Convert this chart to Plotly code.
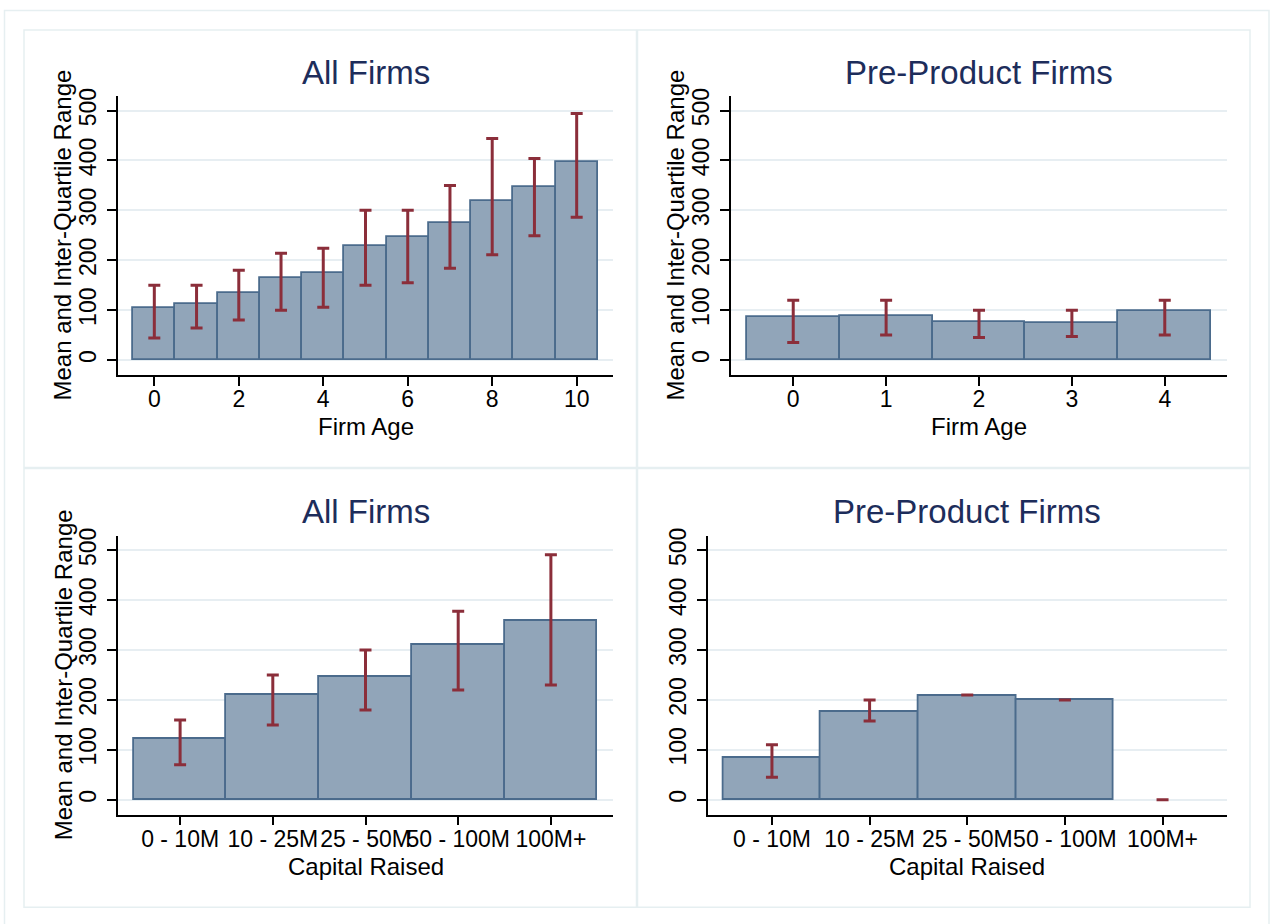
import plotly.graph_objects as go

# ---------------- data ----------------
age_all = [0, 1, 2, 3, 4, 5, 6, 7, 8, 9, 10]
all_age_mean = [105, 112, 135, 165, 175, 229, 247, 275, 319, 347, 397]
all_age_p25 = [44, 64, 80, 100, 106, 150, 155, 184, 211, 249, 286]
all_age_p75 = [150, 150, 180, 214, 224, 300, 300, 350, 444, 404, 494]
all_age_ticks = [0, 2, 4, 6, 8, 10]

age_pre = [0, 1, 2, 3, 4]
pre_age_mean = [87, 88, 77, 74, 98]
pre_age_p25 = [35, 50, 45, 47, 50]
pre_age_p75 = [120, 120, 100, 100, 120]

cap_labels = ["0 - 10M", "10 - 25M", "25 - 50M", "50 - 100M", "100M+"]
all_cap_mean = [121, 211, 247, 311, 359]
all_cap_p25 = [70, 150, 180, 220, 230]
all_cap_p75 = [160, 250, 300, 378, 491]

pre_cap_mean = [83, 177, 209, 200, None]
pre_cap_p25 = [45, 158, 210, 200, 0]
pre_cap_p75 = [110, 200, 210, 200, 0]

y_ticks = [0, 100, 200, 300, 400, 500]

# ---------------- style ----------------
W, H = 1270, 924
FONT = "Liberation Sans, Arial, Helvetica, sans-serif"
BAR_FILL = "#91a5b9"
BAR_LINE = "#4b6b8c"
ERR_COL = "#8b2e3a"
GRID = "#e7eef2"
TITLE_COL = "#1d2d5b"
FRAME = "#e6eff1"


def px(x):
    return x / W


def vy(y):
    # target vertical pixel -> layout pixel (empirical correction)
    return (y - 6.07) / 0.9933


def py(y):
    return 1 - vy(y) / H


panels = [
    dict(x=age_all, m=all_age_mean, lo=all_age_p25, hi=all_age_p75,
         xd=(118, 613), yd=(94.3, 373.8), xr=[-0.86, 10.86],
         tv=all_age_ticks, tt=[str(t) for t in all_age_ticks],
         title="All Firms", xt="Firm Age", yt=True),
    dict(x=age_pre, m=pre_age_mean, lo=pre_age_p25, hi=pre_age_p75,
         xd=(731, 1227), yd=(94.3, 373.8), xr=[-0.67, 4.67],
         tv=age_pre, tt=[str(t) for t in age_pre],
         title="Pre-Product Firms", xt="Firm Age", yt=True),
    dict(x=list(range(len(cap_labels))), m=all_cap_mean, lo=all_cap_p25, hi=all_cap_p75,
         xd=(118, 613), yd=(535, 814.3), xr=[-0.67, 4.67],
         tv=list(range(len(cap_labels))), tt=cap_labels,
         title="All Firms", xt="Capital Raised", yt=True),
    dict(x=list(range(len(cap_labels))), m=pre_cap_mean, lo=pre_cap_p25, hi=pre_cap_p75,
         xd=(707.5, 1227), yd=(535, 814.3), xr=[-0.66, 4.66],
         tv=list(range(len(cap_labels))), tt=cap_labels,
         title="Pre-Product Firms", xt="Capital Raised", yt=False),
]

fig = go.Figure()
annotations = []
layout = {}

for i, p in enumerate(panels):
    n = "" if i == 0 else str(i + 1)
    xa, ya = "x" + n, "y" + n
    fig.add_trace(go.Bar(
        x=p["x"], y=p["m"], width=1, xaxis=xa, yaxis=ya,
        marker=dict(color=BAR_FILL, line=dict(color=BAR_LINE, width=1.8)),
        showlegend=False, hoverinfo="skip",
    ))
    fig.add_trace(go.Scatter(
        x=p["x"], y=p["lo"], xaxis=xa, yaxis=ya, mode="markers",
        marker=dict(size=1, color="rgba(0,0,0,0)"),
        error_y=dict(type="data", symmetric=False,
                     array=[h - l for h, l in zip(p["hi"], p["lo"])],
                     arrayminus=[0] * len(p["lo"]),
                     color=ERR_COL, thickness=3, width=6),
        showlegend=False, hoverinfo="skip",
    ))
    layout["xaxis" + n] = dict(
        domain=[px(p["xd"][0]), px(p["xd"][1])], anchor=ya, range=p["xr"],
        tickmode="array", tickvals=p["tv"], ticktext=p["tt"], tickangle=0,
        showgrid=False, zeroline=False, showline=True, linecolor="black", linewidth=1.5,
        ticks="outside", ticklen=9, tickwidth=1.5, tickcolor="black",
        ticklabelstandoff=-6,
        tickfont=dict(family=FONT, size=23, color="black"),
    )
    layout["yaxis" + n] = dict(
        domain=[py(p["yd"][1]), py(p["yd"][0])], anchor=xa, range=[-30, 529],
        tickmode="array", tickvals=y_ticks, tickangle=-90,
        showgrid=True, gridcolor=GRID, gridwidth=1.5, zeroline=False,
        showline=True, linecolor="black", linewidth=1.5,
        ticks="outside", ticklen=9, tickwidth=1.5, tickcolor="black",
        ticklabelstandoff=2,
        tickfont=dict(family=FONT, size=23, color="black"),
    )
    cx = (p["xd"][0] + p["xd"][1]) / 2
    top = p["yd"][0]
    bottom = p["yd"][1]
    annotations.append(dict(text=p["title"], x=px(cx), y=py(top - 24), xref="paper", yref="paper",
                            xanchor="center", yanchor="middle", showarrow=False,
                            font=dict(family=FONT, size=33, color=TITLE_COL)))
    annotations.append(dict(text=p["xt"], x=px(cx), y=py(bottom + 51.5), xref="paper", yref="paper",
                            xanchor="center", yanchor="middle", showarrow=False,
                            font=dict(family=FONT, size=24, color="black")))
    if p["yt"]:
        annotations.append(dict(text="Mean and Inter-Quartile Range", textangle=-90,
                                x=px(p["xd"][0] - 55), y=py((top + bottom) / 2),
                                xref="paper", yref="paper", xanchor="center", yanchor="middle",
                                showarrow=False, font=dict(family=FONT, size=24, color="black")))

shapes = []
frames = [(24, 28, 636.5, 466.5), (637.5, 28, 1250, 466.5),
          (24, 467.5, 636.5, 907), (637.5, 467.5, 1250, 907)]
for x0, y0, x1, y1 in frames:
    shapes.append(dict(type="rect", xref="paper", yref="paper", x0=px(x0), x1=px(x1),
                       y0=py(y1), y1=py(y0), line=dict(color=FRAME, width=1.5), layer="below"))
# outer frame (bottom edge lies outside the picture)
shapes.append(dict(type="rect", xref="paper", yref="paper", x0=px(4.5), x1=px(1269),
                   y0=py(935), y1=py(8.5), line=dict(color=FRAME, width=1.5), layer="below"))

fig.update_layout(
    width=W, height=H, margin=dict(l=0, r=0, t=0, b=0),
    paper_bgcolor="white", plot_bgcolor="white",
    font=dict(family=FONT), showlegend=False, bargap=0,
    annotations=annotations, shapes=shapes, **layout,
)

fig.write_html("out.html")
